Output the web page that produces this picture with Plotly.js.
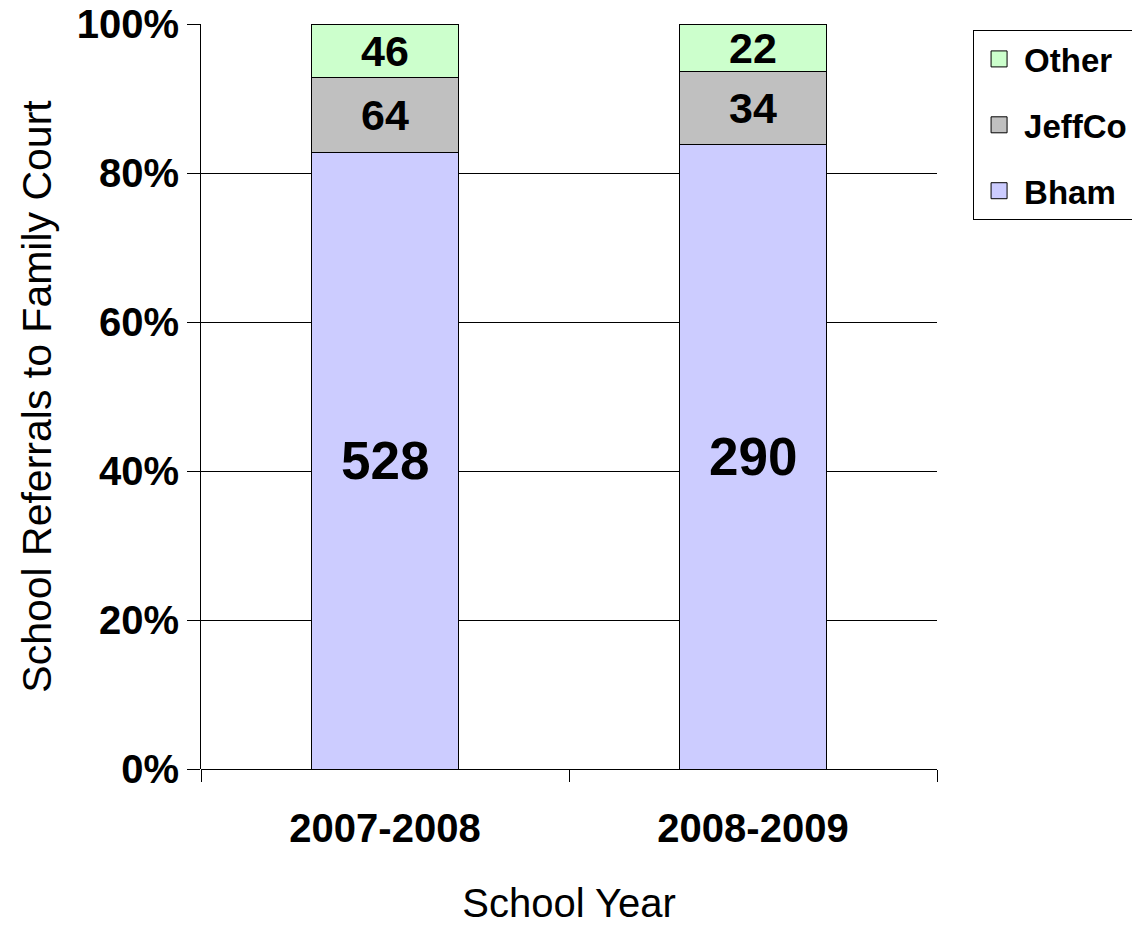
<!DOCTYPE html>
<html>
<head>
<meta charset="utf-8">
<script src="https://cdn.plot.ly/plotly-3.0.1.min.js"></script>
<style>html,body{margin:0;padding:0;background:#fff;}#chart{width:1132px;height:925px;}</style>
</head>
<body>
<div id="chart"></div>
<script>
const years = ["2007-2008", "2008-2009"];
const bham = [528, 290];
const jeffco = [64, 34];
const other = [46, 22];
const seriesNames = ["Bham", "JeffCo", "Other"];
const seriesColors = ["#CCCCFF", "#C0C0C0", "#CCFFCC"];
const labelSizes = [53, 43, 43];

const FONT = "Liberation Sans, Arial, sans-serif";
const series = [bham, jeffco, other];

const data = [];
series.forEach((vals, i) => {
  data.push({
    type: "bar", name: seriesNames[i], x: years, y: vals,
    marker: {color: seriesColors[i], line: {color: "#000", width: 1}},
    showlegend: false, hoverinfo: "skip"
  });
});
// legend entries (swatches), top-most series listed first
series.forEach((vals, i) => {
  data.push({
    type: "scatter", mode: "markers", name: seriesNames[i], x: [null], y: [null],
    marker: {symbol: "square", size: 22, color: seriesColors[i], line: {color: "#000", width: 1}},
    legendgroup: "g" + i, legendrank: 1000 - i, showlegend: true, hoverinfo: "skip"
  });
});

// value labels centred in each segment (percent position from the data)
const annotations = [];
years.forEach((yr, j) => {
  const total = series.reduce((s, arr) => s + arr[j], 0);
  let cum = 0;
  series.forEach((arr, i) => {
    const mid = (cum + arr[j] / 2) / total * 100;
    cum += arr[j];
    annotations.push({
      x: yr, y: mid, xref: "x", yref: "y", text: String(arr[j]), showarrow: false,
      font: {family: FONT, size: labelSizes[i], color: "#000", weight: "bold"},
      xanchor: "center", yanchor: "middle"
    });
  });
});

const layout = {
  width: 1132, height: 925,
  margin: {l: 201, r: 195, t: 24, b: 156, autoexpand: false},
  barmode: "stack", barnorm: "percent", bargap: 0.6,
  paper_bgcolor: "#fff", plot_bgcolor: "#fff",
  font: {family: FONT, color: "#000"},
  showlegend: true,
  legend: {
    x: 1.049, xanchor: "left", y: 0.992, yanchor: "top",
    traceorder: "grouped", tracegroupgap: 20, itemwidth: 40,
    bordercolor: "#000", borderwidth: 1, bgcolor: "#fff",
    font: {family: FONT, size: 33, weight: "bold", color: "#000"}
  },
  annotations: annotations,
  xaxis: {
    type: "category", tickson: "boundaries", ticks: "outside", ticklen: 12,
    tickcolor: "#000", tickwidth: 1, ticklabelstandoff: 32,
    showline: false, showgrid: false, zeroline: false,
    tickfont: {family: FONT, size: 40, weight: "bold"},
    title: {text: "School Year", font: {family: FONT, size: 40}, standoff: 40}
  },
  yaxis: {
    range: [0, 100], dtick: 20, ticksuffix: "%",
    ticks: "outside", ticklen: 13, tickcolor: "#000", tickwidth: 1,
    showline: true, linecolor: "#000", linewidth: 1,
    showgrid: true, gridcolor: "#000", gridwidth: 1,
    zeroline: true, zerolinecolor: "#000", zerolinewidth: 1,
    tickfont: {family: FONT, size: 40, weight: "bold"},
    title: {text: "School Referrals to Family Court", font: {family: FONT, size: 41}, standoff: 12}
  }
};
Plotly.newPlot("chart", data, layout, {displayModeBar: false, staticPlot: true});
</script>
</body>
</html>
